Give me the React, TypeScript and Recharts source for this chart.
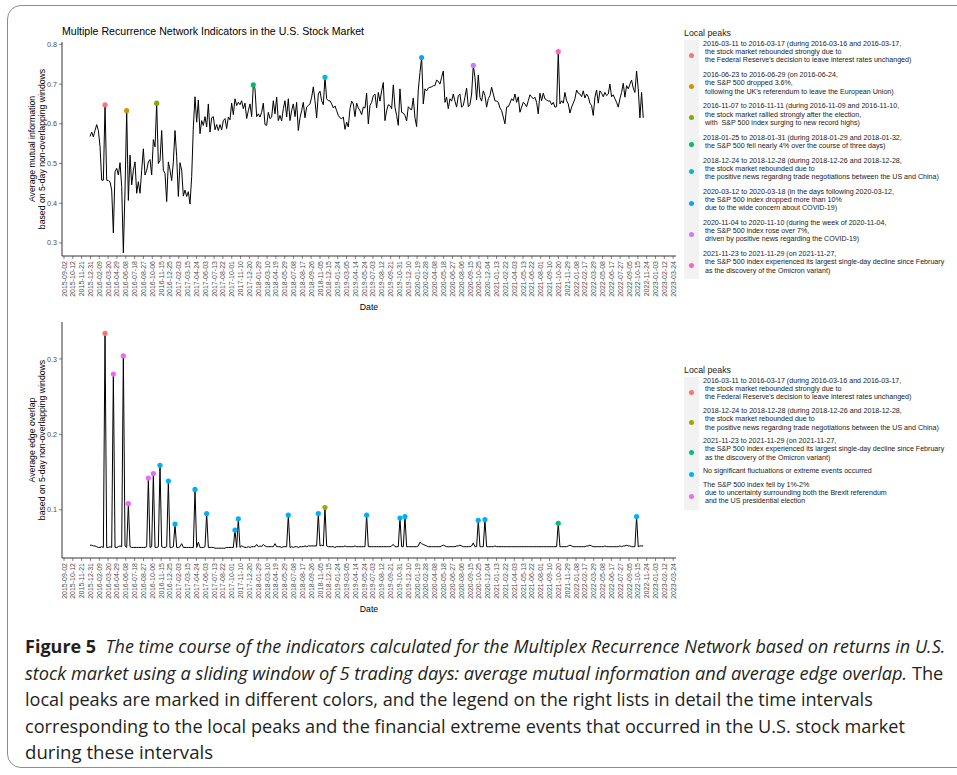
import React, { useLayoutEffect, useRef, useState } from 'react';
import { LineChart, Line, XAxis, YAxis } from 'recharts';

// 40-day date breaks on the x axis
const tickDates = [
  '2015-09-02', '2015-10-12', '2015-11-21', '2015-12-31', '2016-02-09', '2016-03-20', '2016-04-29', '2016-06-08',
  '2016-07-18', '2016-08-27', '2016-10-06', '2016-11-15', '2016-12-25', '2017-02-03', '2017-03-15', '2017-04-24',
  '2017-06-03', '2017-07-13', '2017-08-22', '2017-10-01', '2017-11-10', '2017-12-20', '2018-01-29', '2018-03-10',
  '2018-04-19', '2018-05-29', '2018-07-08', '2018-08-17', '2018-09-26', '2018-11-05', '2018-12-15', '2019-01-24',
  '2019-03-05', '2019-04-14', '2019-05-24', '2019-07-03', '2019-08-12', '2019-09-21', '2019-10-31', '2019-12-10',
  '2020-01-19', '2020-02-28', '2020-04-08', '2020-05-18', '2020-06-27', '2020-08-06', '2020-09-15', '2020-10-25',
  '2020-12-04', '2021-01-13', '2021-02-22', '2021-04-03', '2021-05-13', '2021-06-22', '2021-08-01', '2021-09-10',
  '2021-10-20', '2021-11-29', '2022-01-08', '2022-02-17', '2022-03-29', '2022-05-08', '2022-06-17', '2022-07-27',
  '2022-09-05', '2022-10-15', '2022-11-24', '2023-01-03', '2023-02-12', '2023-03-24',
];

// windows as placed on the date axis
const firstWindow = '2015-12-29';
const windowStepDays = 7.55;

// average mutual information
const miValues = [
  0.568, 0.579, 0.567, 0.583, 0.598, 0.583, 0.543, 0.458, 0.458, 0.648,
  0.458, 0.457, 0.454, 0.433, 0.325, 0.479, 0.488, 0.471, 0.502, 0.442,
  0.275, 0.433, 0.633, 0.407, 0.521, 0.446, 0.483, 0.504, 0.425, 0.454,
  0.425, 0.483, 0.537, 0.471, 0.483, 0.504, 0.510, 0.471, 0.560, 0.542,
  0.652, 0.500, 0.507, 0.583, 0.483, 0.475, 0.404, 0.504, 0.483, 0.457,
  0.504, 0.583, 0.517, 0.417, 0.502, 0.483, 0.418, 0.433, 0.417, 0.429,
  0.398, 0.467, 0.592, 0.668, 0.604, 0.660, 0.575, 0.608, 0.596, 0.618,
  0.592, 0.650, 0.579, 0.615, 0.618, 0.585, 0.598, 0.583, 0.598, 0.585,
  0.608, 0.613, 0.588, 0.617, 0.610, 0.652, 0.623, 0.663, 0.646, 0.654,
  0.648, 0.658, 0.638, 0.652, 0.613, 0.633, 0.650, 0.618, 0.698, 0.688,
  0.618, 0.625, 0.617, 0.629, 0.652, 0.598, 0.596, 0.629, 0.613, 0.617,
  0.658, 0.625, 0.667, 0.608, 0.621, 0.607, 0.638, 0.658, 0.617, 0.663,
  0.608, 0.633, 0.650, 0.618, 0.654, 0.583, 0.615, 0.633, 0.654, 0.615,
  0.642, 0.646, 0.650, 0.667, 0.693, 0.658, 0.615, 0.675, 0.682, 0.658,
  0.648, 0.717, 0.663, 0.658, 0.658, 0.650, 0.640, 0.645, 0.633, 0.621,
  0.615, 0.613, 0.617, 0.586, 0.604, 0.592, 0.638, 0.657, 0.650, 0.618,
  0.652, 0.640, 0.633, 0.623, 0.642, 0.640, 0.677, 0.600, 0.646, 0.654,
  0.671, 0.675, 0.640, 0.679, 0.657, 0.683, 0.704, 0.608, 0.633, 0.648,
  0.646, 0.638, 0.698, 0.642, 0.621, 0.596, 0.688, 0.629, 0.627, 0.621,
  0.607, 0.643, 0.638, 0.635, 0.665, 0.615, 0.593, 0.685, 0.729, 0.767,
  0.650, 0.688, 0.683, 0.690, 0.692, 0.693, 0.696, 0.696, 0.710, 0.707,
  0.700, 0.717, 0.733, 0.654, 0.667, 0.638, 0.663, 0.657, 0.675, 0.657,
  0.642, 0.671, 0.675, 0.642, 0.646, 0.667, 0.690, 0.643, 0.648, 0.675,
  0.747, 0.717, 0.660, 0.723, 0.667, 0.657, 0.683, 0.671, 0.642, 0.663,
  0.671, 0.692, 0.675, 0.658, 0.657, 0.654, 0.640, 0.633, 0.617, 0.600,
  0.642, 0.643, 0.652, 0.663, 0.658, 0.675, 0.654, 0.668, 0.629, 0.642,
  0.654, 0.650, 0.643, 0.658, 0.673, 0.668, 0.663, 0.667, 0.654, 0.625,
  0.677, 0.658, 0.677, 0.663, 0.660, 0.657, 0.658, 0.648, 0.654, 0.642,
  0.643, 0.782, 0.650, 0.658, 0.652, 0.679, 0.658, 0.650, 0.627, 0.642,
  0.652, 0.663, 0.685, 0.677, 0.675, 0.668, 0.683, 0.665, 0.675, 0.668,
  0.652, 0.646, 0.621, 0.667, 0.685, 0.652, 0.683, 0.677, 0.668, 0.679,
  0.671, 0.675, 0.700, 0.668, 0.673, 0.663, 0.654, 0.642, 0.663, 0.679,
  0.702, 0.667, 0.696, 0.688, 0.700, 0.710, 0.690, 0.679, 0.733, 0.688,
  0.615, 0.679, 0.615,
];

// average edge overlap
const eoValues = [
  0.053, 0.053, 0.052, 0.052, 0.051, 0.050, 0.050, 0.051, 0.050, 0.334,
  0.050, 0.050, 0.051, 0.050, 0.280, 0.050, 0.050, 0.051, 0.052, 0.051,
  0.304, 0.052, 0.050, 0.108, 0.051, 0.050, 0.050, 0.050, 0.050, 0.050,
  0.050, 0.050, 0.050, 0.050, 0.051, 0.142, 0.050, 0.051, 0.148, 0.050,
  0.050, 0.051, 0.159, 0.051, 0.050, 0.050, 0.051, 0.138, 0.050, 0.050,
  0.051, 0.081, 0.050, 0.050, 0.051, 0.055, 0.050, 0.050, 0.050, 0.050,
  0.050, 0.050, 0.050, 0.127, 0.050, 0.057, 0.050, 0.050, 0.050, 0.051,
  0.095, 0.050, 0.050, 0.050, 0.050, 0.049, 0.049, 0.049, 0.049, 0.049,
  0.049, 0.049, 0.050, 0.050, 0.050, 0.050, 0.050, 0.073, 0.050, 0.088,
  0.050, 0.052, 0.051, 0.050, 0.050, 0.051, 0.050, 0.051, 0.051, 0.051,
  0.054, 0.051, 0.052, 0.051, 0.054, 0.052, 0.051, 0.051, 0.051, 0.051,
  0.051, 0.055, 0.051, 0.051, 0.051, 0.050, 0.051, 0.051, 0.051, 0.093,
  0.050, 0.051, 0.050, 0.051, 0.051, 0.050, 0.051, 0.051, 0.051, 0.052,
  0.051, 0.052, 0.052, 0.052, 0.052, 0.052, 0.052, 0.095, 0.052, 0.053,
  0.052, 0.103, 0.052, 0.051, 0.051, 0.051, 0.051, 0.050, 0.051, 0.051,
  0.051, 0.051, 0.051, 0.052, 0.051, 0.051, 0.051, 0.051, 0.051, 0.052,
  0.051, 0.051, 0.051, 0.051, 0.051, 0.051, 0.093, 0.051, 0.051, 0.051,
  0.051, 0.051, 0.051, 0.051, 0.051, 0.051, 0.051, 0.051, 0.051, 0.051,
  0.051, 0.052, 0.054, 0.051, 0.051, 0.051, 0.089, 0.051, 0.051, 0.091,
  0.051, 0.051, 0.051, 0.051, 0.051, 0.051, 0.051, 0.052, 0.057, 0.055,
  0.054, 0.053, 0.052, 0.051, 0.051, 0.051, 0.051, 0.051, 0.051, 0.051,
  0.051, 0.052, 0.053, 0.052, 0.051, 0.051, 0.051, 0.051, 0.051, 0.051,
  0.052, 0.052, 0.053, 0.052, 0.051, 0.051, 0.051, 0.051, 0.051, 0.052,
  0.056, 0.051, 0.051, 0.086, 0.051, 0.051, 0.051, 0.087, 0.051, 0.051,
  0.051, 0.051, 0.051, 0.052, 0.051, 0.051, 0.051, 0.051, 0.051, 0.051,
  0.051, 0.051, 0.051, 0.051, 0.051, 0.051, 0.051, 0.051, 0.051, 0.051,
  0.051, 0.051, 0.051, 0.051, 0.051, 0.051, 0.051, 0.051, 0.051, 0.051,
  0.051, 0.051, 0.051, 0.051, 0.051, 0.051, 0.051, 0.051, 0.051, 0.051,
  0.051, 0.082, 0.051, 0.051, 0.051, 0.051, 0.051, 0.052, 0.053, 0.052,
  0.051, 0.051, 0.051, 0.051, 0.051, 0.051, 0.051, 0.051, 0.052, 0.052,
  0.053, 0.052, 0.051, 0.051, 0.051, 0.051, 0.051, 0.051, 0.051, 0.052,
  0.051, 0.051, 0.051, 0.051, 0.051, 0.051, 0.051, 0.051, 0.052, 0.051,
  0.052, 0.052, 0.053, 0.052, 0.052, 0.051, 0.051, 0.051, 0.091, 0.051,
  0.052, 0.052, 0.052,
];

// local peaks: window index and legend group
const miPeakIndex = [9, 22, 40, 98, 141, 199, 230, 281];
const miPeakGroup = [0, 1, 2, 3, 4, 5, 6, 7];
const miColors = ['#F8766D', '#CD9600', '#7CAE00', '#00BE67', '#00BFC4', '#00A9FF', '#C77CFF', '#FF61CC'];

const eoPeakIndex = [9, 14, 20, 23, 35, 38, 42, 47, 51, 63, 70, 87, 89, 119, 137, 141, 166, 186, 189, 233, 237, 281, 328];
const eoPeakGroup = [0, 4, 4, 4, 4, 4, 3, 3, 3, 3, 3, 3, 3, 3, 3, 1, 3, 3, 3, 3, 3, 2, 3];
const eoColors = ['#F8766D', '#A3A500', '#00BF7D', '#00B0F6', '#E76BF3'];

const miLegend = [
  ['2016-03-11 to 2016-03-17 (during 2016-03-16 and 2016-03-17,', ' the stock market rebounded strongly due to', " the Federal Reserve's decision to leave interest rates unchanged)"],
  ['2016-06-23 to 2016-06-29 (on 2016-06-24,', ' the S&P 500 dropped 3.6%,', " following the UK's referendum to leave the European Union)"],
  ['2016-11-07 to 2016-11-11 (during 2016-11-09 and 2016-11-10,', ' the stock market rallied strongly after the election,', ' with  S&P 500 index surging to new record highs)'],
  ['2018-01-25 to 2018-01-31 (during 2018-01-29 and 2018-01-32,', ' the S&P 500 fell nearly 4% over the course of three days)'],
  ['2018-12-24 to 2018-12-28 (during 2018-12-26 and 2018-12-28,', ' the stock market rebounded due to', ' the positive news regarding trade negotiations between the US and China)'],
  ['2020-03-12 to 2020-03-18 (in the days following 2020-03-12,', ' the S&P 500 index dropped more than 10%', ' due to the wide concern about COVID-19)'],
  ['2020-11-04 to 2020-11-10 (during the week of 2020-11-04,', ' the S&P 500 index rose over 7%,', ' driven by positive news regarding the COVID-19)'],
  ['2021-11-23 to 2021-11-29 (on 2021-11-27,', ' the S&P 500 index experienced its largest single-day decline since February', ' as the discovery of the Omicron variant)'],
];

const eoLegend = [
  miLegend[0],
  miLegend[4],
  miLegend[7],
  ['No significant fluctuations or extreme events occurred'],
  ['The S&P 500 index fell by 1%-2%', ' due to uncertainty surrounding both the Brexit referendum', ' and the US presidential election'],
];

// caption lines and the width each line fills
const captionLines = [
  { bold: 'Figure 5', italic: 'The time course of the indicators calculated for the Multiplex Recurrence Network based on returns in U.S.', plain: '', width: 920 },
  { bold: '', italic: 'stock market using a sliding window of 5 trading days: average mutual information and average edge overlap.', plain: ' The', width: 918 },
  { bold: '', italic: '', plain: 'local peaks are marked in different colors, and the legend on the right lists in detail the time intervals', width: 848 },
  { bold: '', italic: '', plain: 'corresponding to the local peaks and the financial extreme events that occurred in the U.S. stock market', width: 880 },
  { bold: '', italic: '', plain: 'during these intervals', width: 188 },
];

const FONT = "'Liberation Sans', Arial, Helvetica, sans-serif";
const CAPTION_FONT = "'Open Sans', 'Noto Sans', sans-serif";
const DAY = 86400000;
const origin = Date.parse(tickDates[0]);
const tickDays = tickDates.map((d) => (Date.parse(d) - origin) / DAY);
const firstDay = (Date.parse(firstWindow) - origin) / DAY;
const xDomain = [-9, 2773];

function buildRows(values: number[], peakIndex: number[], peakGroup: number[], colors: string[]) {
  return values.map((v, i) => {
    const p = peakIndex.indexOf(i);
    return { day: firstDay + i * windowStepDays, v, color: p >= 0 ? colors[peakGroup[p]] : null };
  });
}

const miRows = buildRows(miValues, miPeakIndex, miPeakGroup, miColors);
const eoRows = buildRows(eoValues, eoPeakIndex, eoPeakGroup, eoColors);

const PeakDot = (props: any) => {
  const { cx, cy, payload, index } = props;
  if (!payload || !payload.color) return <g key={`n${index}`} />;
  return <circle key={`p${index}`} cx={cx} cy={cy} r={2.6} fill={payload.color} stroke="none" />;
};

const DateTick = (props: any) => {
  const { x, y, payload } = props;
  const label = tickDates[tickDays.indexOf(payload.value)];
  return (
    <text x={x} y={y} transform={`rotate(-90 ${x} ${y})`} textAnchor="end" dy="0.36em"
      fontSize={7} fill="#4d4d4d" fontFamily={FONT}>
      {label}
    </text>
  );
};

const YTitle = ({ lines, midY }: { lines: string[]; midY: number }) => (
  <text transform={`translate(37 ${midY}) rotate(-90)`} textAnchor="middle" fontSize={8.7} fill="#000" fontFamily={FONT}>
    <tspan x={0} dy="-0.2em">{lines[0]}</tspan>
    <tspan x={0} dy="1.15em">{lines[1]}</tspan>
  </text>
);

const XTitle = ({ baseY }: { baseY: number }) => (
  <text transform={`translate(369 ${baseY})`} textAnchor="middle" fontSize={8.7} fill="#000" fontFamily={FONT}>Date</text>
);

function Panel(props: { rows: any[]; top: number; height: number; plotTop: number; plotBottom: number;
  yDomain: number[]; yTicks: number[]; titleLines: string[] }) {
  const { rows, top, height, plotTop, plotBottom, yDomain, yTicks, titleLines } = props;
  const xHeight = height - plotBottom;
  return (
    <div style={{ position: 'absolute', left: 0, top }}>
      <LineChart width={690} height={height} data={rows} margin={{ top: plotTop, right: 14, bottom: 0, left: 0 }}>
        <XAxis type="number" dataKey="day" domain={xDomain} ticks={tickDays} interval={0} allowDataOverflow
          height={xHeight} tick={<DateTick />} tickSize={3} tickMargin={2}
          axisLine={{ stroke: '#000', strokeWidth: 0.8 }} tickLine={{ stroke: '#333', strokeWidth: 0.6 }}
          label={<XTitle baseY={plotBottom + 54} />} />
        <YAxis type="number" domain={yDomain} ticks={yTicks} allowDataOverflow width={62}
          tick={{ fontSize: 7.2, fill: '#4d4d4d', fontFamily: FONT }} tickSize={3} tickMargin={2}
          axisLine={{ stroke: '#000', strokeWidth: 0.8 }} tickLine={{ stroke: '#333', strokeWidth: 0.6 }}
          label={<YTitle lines={titleLines} midY={(plotTop + plotBottom) / 2} />} />
        <Line type="linear" dataKey="v" stroke="#000" strokeWidth={1} dot={PeakDot} activeDot={false}
          isAnimationActive={false} />
      </LineChart>
    </div>
  );
}

function PeakLegend({ left, top, items, colors, gap }: { left: number; top: number; items: string[][]; colors: string[]; gap: number }) {
  return (
    <div style={{ position: 'absolute', left, top, fontFamily: FONT, color: '#1a1a1a' }}>
      <div style={{ fontSize: 8.8, lineHeight: '10px', marginBottom: 2 }}>Local peaks</div>
      <div style={{ position: 'relative', paddingBottom: 4 }}>
        <div style={{ position: 'absolute', left: 0, top: 0, bottom: 0, width: 15, background: '#f2f2f2' }} />
        {items.map((lines, k) => (
          <div key={k} style={{ position: 'relative', paddingLeft: 19, marginTop: k ? gap : 0, fontSize: 7.1,
            lineHeight: '8.2px', whiteSpace: 'pre' }}>
            <span style={{ position: 'absolute', left: 4.5, top: 'calc(50% + 0.5px)', width: 5, height: 5,
              borderRadius: '50%', background: colors[k] }} />
            {lines.join('\n')}
          </div>
        ))}
      </div>
    </div>
  );
}

// one caption line, squeezed horizontally to the width it takes in the figure
function CaptionLine({ line, y }: { line: typeof captionLines[number]; y: number }) {
  const ref = useRef<SVGTextElement>(null);
  const [scale, setScale] = useState(0.85);
  useLayoutEffect(() => {
    if (ref.current) {
      const w = ref.current.getComputedTextLength();
      if (w > 0) setScale(line.width / w);
    }
  }, [line.width]);
  return (
    <text ref={ref} transform={`translate(25 ${y}) scale(${scale} 1)`} x={0} y={0}
      fontFamily={CAPTION_FONT} fontSize={18.5} fill="#231f20">
      {line.bold ? <tspan fontWeight={700}>{line.bold + '\u00a0\u00a0'}</tspan> : null}
      {line.italic ? <tspan fontStyle="italic">{line.italic}</tspan> : null}
      {line.plain ? <tspan>{line.plain}</tspan> : null}
    </text>
  );
}

function Caption() {
  return (
    <svg width={957} height={140} style={{ position: 'absolute', left: 0, top: 630 }}>
      {captionLines.map((l, k) => (
        <CaptionLine key={k} line={l} y={23 + k * 26.6} />
      ))}
    </svg>
  );
}

export default function App() {
  return (
    <div style={{ position: 'absolute', left: 0, top: 0, width: 957, height: 775, overflow: 'hidden', background: '#fff' }}>
      <div style={{ position: 'absolute', left: 7, top: 5, width: 990, height: 763, border: '1.5px solid #8c8c8c',
        borderRadius: 14, boxSizing: 'border-box' }} />
      <div style={{ position: 'absolute', left: 62, top: 24, fontFamily: FONT, fontSize: 10.6, lineHeight: '14px', color: '#000' }}>
        Multiple Recurrence Network Indicators in the U.S. Stock Market
      </div>
      <Panel rows={miRows} top={0} height={320} plotTop={42} plotBottom={256} yDomain={[0.267, 0.806]}
        yTicks={[0.3, 0.4, 0.5, 0.6, 0.7, 0.8]} titleLines={['Average mutual information', 'based on 5-day non-overlapping windows']} />
      <Panel rows={eoRows} top={280} height={340} plotTop={42} plotBottom={278} yDomain={[0.036, 0.349]}
        yTicks={[0.1, 0.2, 0.3]} titleLines={['Average edge overlap', 'based on 5-day non-overlapping windows']} />
      <PeakLegend left={684} top={28} items={miLegend} colors={miColors} gap={6.6} />
      <PeakLegend left={684} top={365} items={eoLegend} colors={eoColors} gap={5.5} />
      <Caption />
    </div>
  );
}
